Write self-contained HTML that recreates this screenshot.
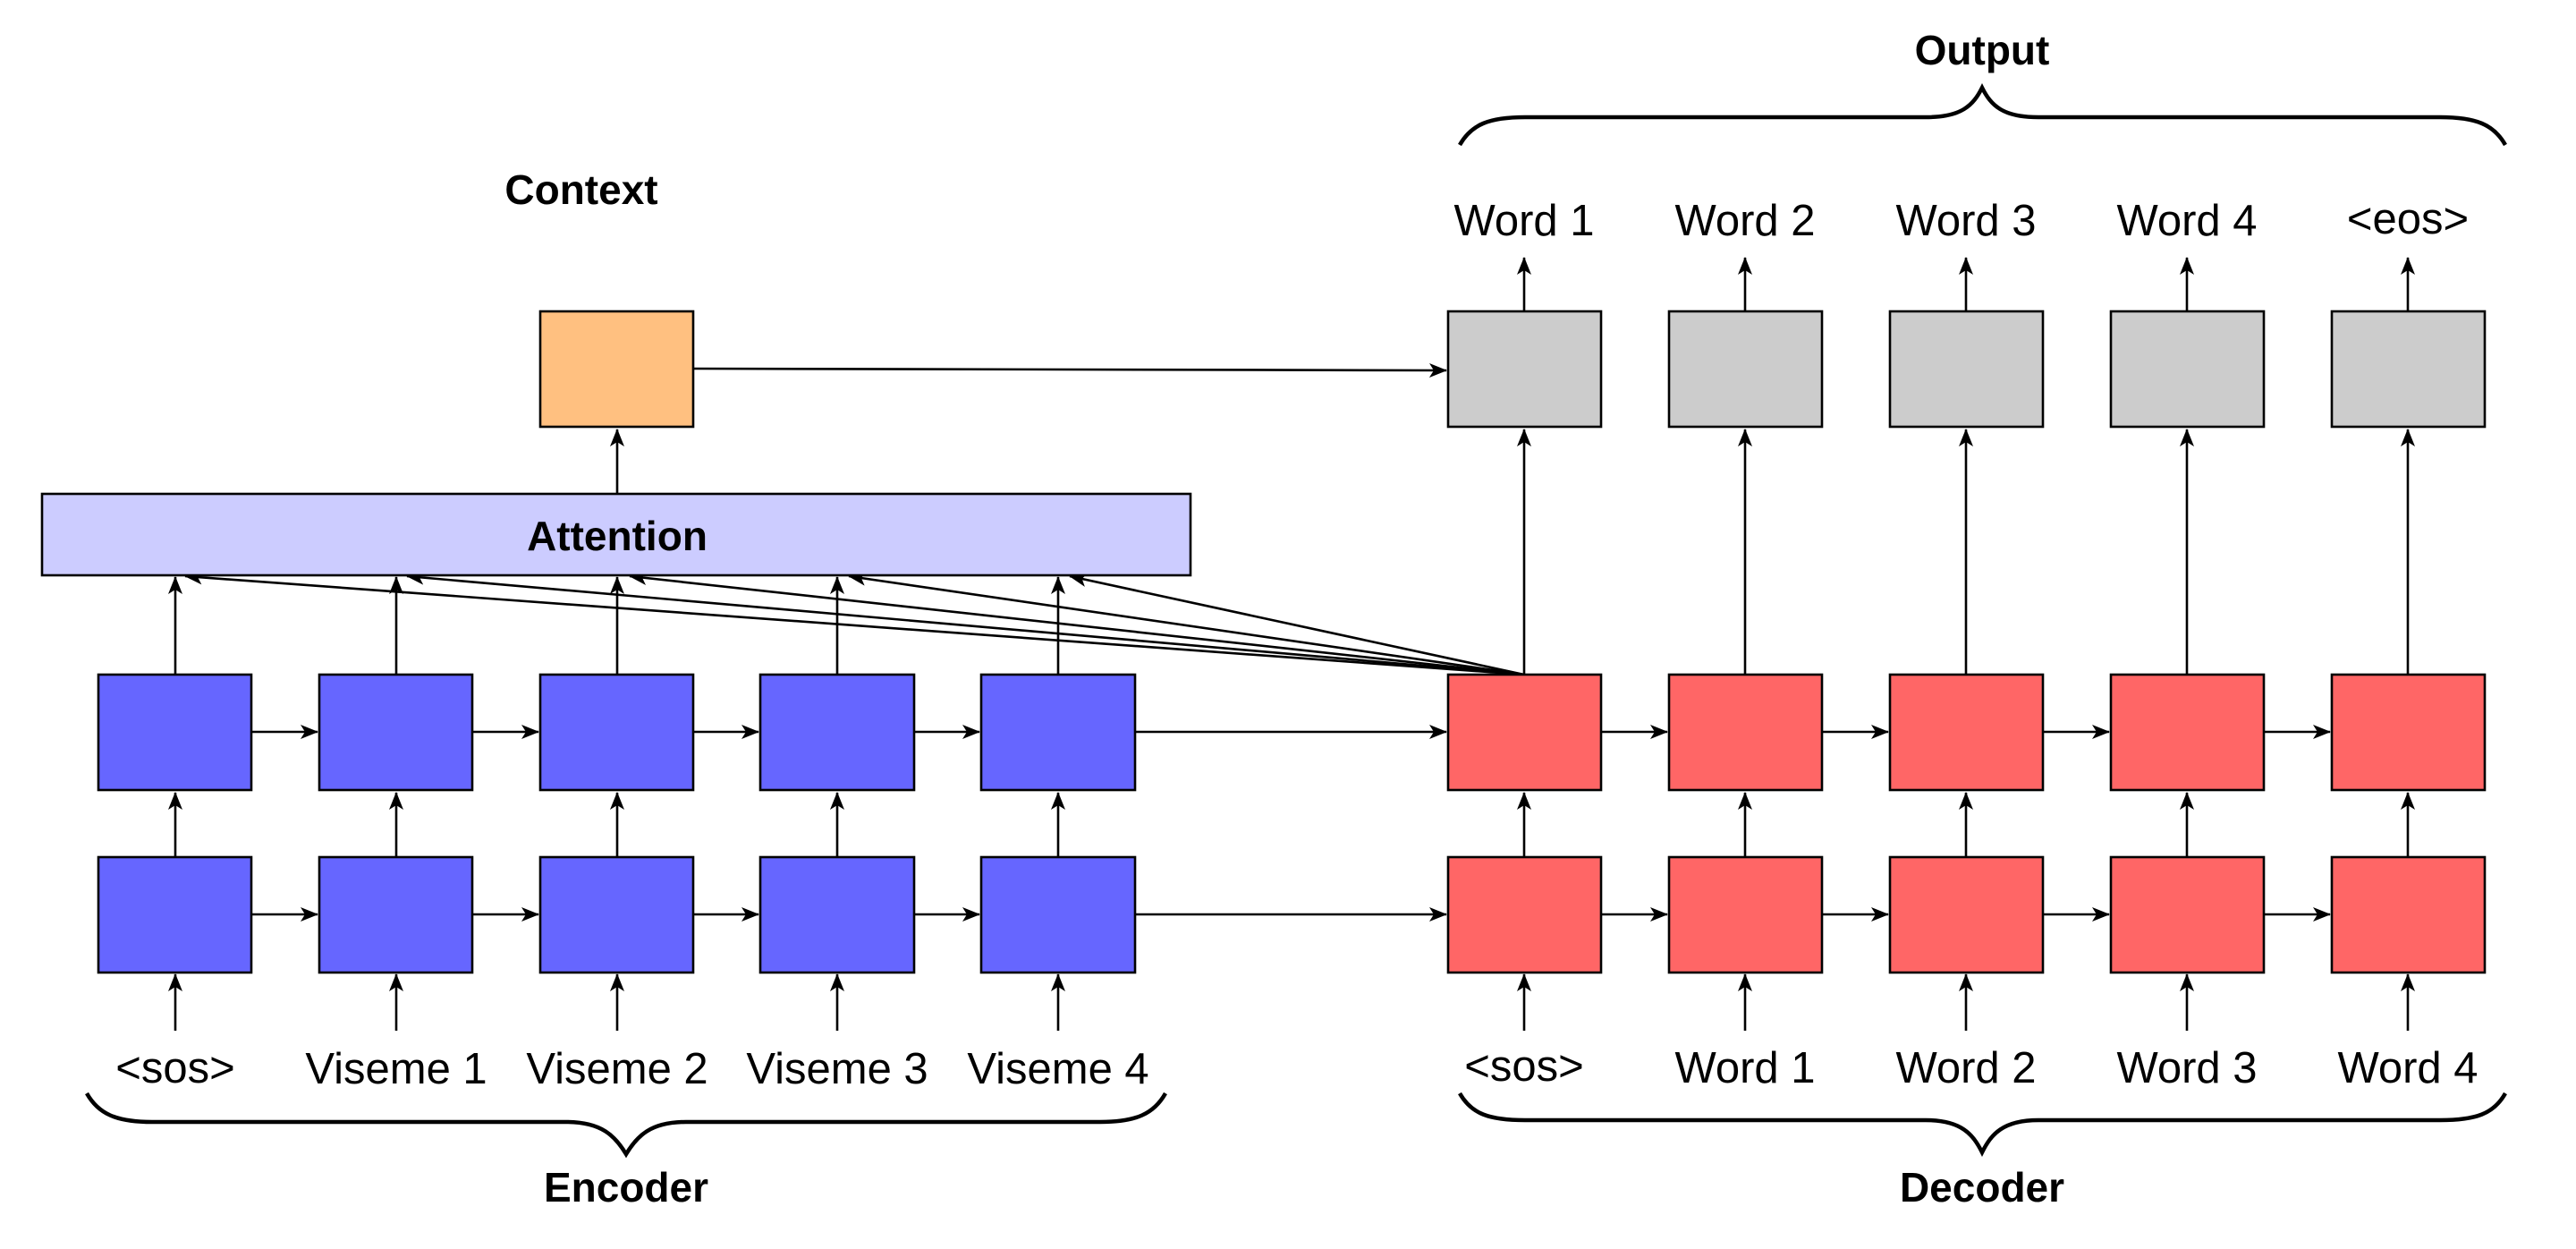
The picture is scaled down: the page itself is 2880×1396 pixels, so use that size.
<!DOCTYPE html>
<html><head><meta charset="utf-8"><style>
html,body{margin:0;padding:0;background:#fff;}
svg{display:block;}
text{font-family:"Liberation Sans",sans-serif;fill:#000;}
</style></head><body>
<svg width="2880" height="1396" viewBox="0 0 2880 1396" xmlns="http://www.w3.org/2000/svg">
<defs>
<marker id="a" viewBox="0 0 20 20" refX="19" refY="10" markerWidth="20" markerHeight="20" markerUnits="userSpaceOnUse" orient="auto">
<path d="M0,2 L20,10 L0,18 L5,10 Z" fill="#000"/>
</marker>
</defs>
<g stroke="#000" stroke-width="2.6" fill="none" marker-end="url(#a)">
<path d="M196,1152 V1089"/><path d="M443,1152 V1089"/><path d="M690,1152 V1089"/><path d="M936,1152 V1089"/><path d="M1183,1152 V1089"/>
<path d="M196,958 V886"/><path d="M443,958 V886"/><path d="M690,958 V886"/><path d="M936,958 V886"/><path d="M1183,958 V886"/>
<path d="M196,754 V645"/><path d="M443,754 V645"/><path d="M690,754 V645"/><path d="M936,754 V645"/><path d="M1183,754 V645"/>
<path d="M690,552 V480"/>
<path d="M281,1022 H355"/><path d="M528,1022 H602"/><path d="M775,1022 H848"/><path d="M1022,1022 H1095"/>
<path d="M281,818 H355"/><path d="M528,818 H602"/><path d="M775,818 H848"/><path d="M1022,818 H1095"/>
<path d="M1269,818 H1617"/><path d="M1269,1022 H1617"/>
<path d="M775,412 L1617,414"/>
<path d="M1704,754 L207,644"/><path d="M1704,754 L455,644"/><path d="M1704,754 L704,644"/><path d="M1704,754 L949,644"/><path d="M1704,754 L1196,644"/>
<path d="M1704,1152 V1089"/><path d="M1951,1152 V1089"/><path d="M2198,1152 V1089"/><path d="M2445,1152 V1089"/><path d="M2692,1152 V1089"/>
<path d="M1704,958 V886"/><path d="M1951,958 V886"/><path d="M2198,958 V886"/><path d="M2445,958 V886"/><path d="M2692,958 V886"/>
<path d="M1704,754 V480"/><path d="M1951,754 V480"/><path d="M2198,754 V480"/><path d="M2445,754 V480"/><path d="M2692,754 V480"/>
<path d="M1704,348 V288"/><path d="M1951,348 V288"/><path d="M2198,348 V288"/><path d="M2445,348 V288"/><path d="M2692,348 V288"/>
<path d="M1790,1022 H1864"/><path d="M2037,1022 H2111"/><path d="M2284,1022 H2358"/><path d="M2531,1022 H2605"/>
<path d="M1790,818 H1864"/><path d="M2037,818 H2111"/><path d="M2284,818 H2358"/><path d="M2531,818 H2605"/>
</g>
<g stroke="#000" stroke-width="2.6">
<rect x="604" y="348" width="171" height="129" fill="#ffc080"/>
<rect x="47" y="552" width="1284" height="91" fill="#ccccff"/>
<g fill="#6666ff">
<rect x="110" y="754" width="171" height="129"/><rect x="357" y="754" width="171" height="129"/><rect x="604" y="754" width="171" height="129"/><rect x="850" y="754" width="172" height="129"/><rect x="1097" y="754" width="172" height="129"/>
<rect x="110" y="958" width="171" height="129"/><rect x="357" y="958" width="171" height="129"/><rect x="604" y="958" width="171" height="129"/><rect x="850" y="958" width="172" height="129"/><rect x="1097" y="958" width="172" height="129"/>
</g>
<g fill="#ff6666">
<rect x="1619" y="754" width="171" height="129"/><rect x="1866" y="754" width="171" height="129"/><rect x="2113" y="754" width="171" height="129"/><rect x="2360" y="754" width="171" height="129"/><rect x="2607" y="754" width="171" height="129"/>
<rect x="1619" y="958" width="171" height="129"/><rect x="1866" y="958" width="171" height="129"/><rect x="2113" y="958" width="171" height="129"/><rect x="2360" y="958" width="171" height="129"/><rect x="2607" y="958" width="171" height="129"/>
</g>
<g fill="#cccccc">
<rect x="1619" y="348" width="171" height="129"/><rect x="1866" y="348" width="171" height="129"/><rect x="2113" y="348" width="171" height="129"/><rect x="2360" y="348" width="171" height="129"/><rect x="2607" y="348" width="171" height="129"/>
</g>
</g>
<g stroke="#000" stroke-width="4.5" fill="none">
<path d="M97,1222 C110,1245 130,1254 170,1254 H633 C673,1254 688,1270 700,1290 C712,1270 727,1254 767,1254 H1230 C1270,1254 1290,1245 1303,1222"/>
<path d="M1632,1222 C1645,1245 1665,1252 1705,1252 H2153 C2193,1252 2206,1268 2216,1288 C2226,1268 2239,1252 2279,1252 H2728 C2768,1252 2788,1245 2801,1222"/>
<path d="M1632,162 C1645,139 1665,131 1705,131 H2153 C2193,131 2206,118 2216,98 C2226,118 2239,131 2279,131 H2728 C2768,131 2788,139 2801,162"/>
</g>
<g font-size="49" text-anchor="middle">
<text x="196" y="1210">&lt;sos&gt;</text>
<text x="443" y="1211">Viseme 1</text><text x="690" y="1211">Viseme 2</text><text x="936" y="1211">Viseme 3</text><text x="1183" y="1211">Viseme 4</text>
<text x="1704" y="1208">&lt;sos&gt;</text>
<text x="1951" y="1210">Word 1</text><text x="2198" y="1210">Word 2</text><text x="2445" y="1210">Word 3</text><text x="2692" y="1210">Word 4</text>
<text x="1704" y="263">Word 1</text><text x="1951" y="263">Word 2</text><text x="2198" y="263">Word 3</text><text x="2445" y="263">Word 4</text><text x="2692" y="261">&lt;eos&gt;</text>
</g>
<g font-size="46" font-weight="bold" text-anchor="middle">
<text x="700" y="1343">Encoder</text>
<text x="2216" y="1343">Decoder</text>
<text x="2216" y="72">Output</text>
<text x="650" y="228">Context</text>
<text x="690" y="615">Attention</text>
</g>
</svg>
</body></html>
